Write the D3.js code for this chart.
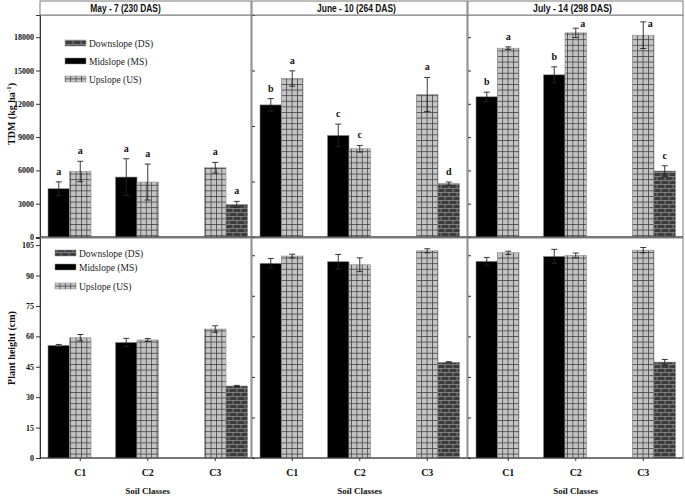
<!DOCTYPE html>
<html>
<head>
<meta charset="utf-8">
<script src="https://cdn.jsdelivr.net/npm/d3@7"></script>
<style>
  body { margin: 0; background: #fff; }
  svg { display: block; }
  .tick text { font-family: "Liberation Serif", "Times New Roman", serif; font-weight: bold; }
</style>
</head>
<body>
<script>
'use strict';

// categories / panels
const classes = ["C1", "C2", "C3"];
const series = ["MS", "US", "DS"];
const dates = ["May - 7 (230 DAS)", "June - 10 (264 DAS)", "July - 14 (298 DAS)"];
const legendNames = ["Downslope (DS)", "Midslope (MS)", "Upslope (US)"];
const legendKeys = ["DS", "MS", "US"];

// TDM (kg/ha), one row per date, columns C1..C3
const tdmMS = [[4350, 5400, null], [11900, 9150, null], [12630, 14610, null]];
const tdmUS = [[5900, 4950, 6240], [14280, 7950, 12840], [17010, 18390, 18180]];
const tdmDS = [[null, null, 2940], [null, null, 4800], [null, null, 5940]];
const tdmErrMS = [[620, 1650, null], [570, 1020, null], [420, 720, null]];
const tdmErrUS = [[920, 1620, 480], [690, 300, 1530], [120, 420, 1200]];
const tdmErrDS = [[null, null, 270], [null, null, 150], [null, null, 480]];
const tdmLetMS = [["a", "a", null], ["b", "c", null], ["b", "b", null]];
const tdmLetUS = [["a", "a", "a"], ["a", "c", "a"], ["a", "a", "a"]];
const tdmLetDS = [[null, null, "a"], [null, null, "d"], [null, null, "c"]];

// Plant height (cm)
const htMS = [[55.5, 57.0, null], [96.0, 96.8, null], [97.0, 99.4, null]];
const htUS = [[59.3, 58.2, 63.6], [99.6, 95.3, 102.2], [101.2, 99.9, 102.5]];
const htDS = [[null, null, 35.5], [null, null, 47.2], [null, null, 47.3]];
const htErrMS = [[0.5, 2.0, null], [2.4, 3.6, null], [1.9, 3.5, null]];
const htErrUS = [[1.6, 0.7, 1.6], [0.9, 3.4, 1.0], [0.8, 1.2, 1.3]];
const htErrDS = [[null, null, 0.3], [null, null, 0.3], [null, null, 1.3]];

// y tick labels
const tdmTicks = [0, 3000, 6000, 9000, 12000, 15000, 18000];
const htTicks = [0, 15, 30, 45, 60, 75, 90, 105];

(function () {
    const W = 685, H = 497;
    const svg = d3.select("body").append("svg")
        .attr("width", W)
        .attr("height", H);

    // patterns
    const defs = svg.append("defs");
    const grid = defs.append("pattern")
        .attr("id", "pUS").attr("patternUnits", "userSpaceOnUse")
        .attr("width", 5.4).attr("height", 5.6);
    grid.append("rect").attr("width", 5.4).attr("height", 5.6).attr("fill", "#c4c4c4");
    grid.append("path").attr("d", "M0,0.4H5.4M0.4,0V5.6")
        .attr("stroke", "#3c3c3c").attr("stroke-width", 0.8);

    const brick = defs.append("pattern")
        .attr("id", "pDS").attr("patternUnits", "userSpaceOnUse")
        .attr("width", 8).attr("height", 8);
    brick.append("rect").attr("width", 8).attr("height", 8).attr("fill", "#3d3d3d");
    brick.append("path").attr("d", "M0,0.5H8M0,4.5H8M1,0V4M5,4V8")
        .attr("stroke", "#858585").attr("stroke-width", 0.9);

    const fills = { MS: "#000", US: "url(#pUS)", DS: "url(#pDS)" };

    const edges = [40, 251, 467, 683];
    const rows = [
        { top: 15, bottom: 237, max: 20000, ticks: tdmTicks, step: [3000, 5000, 3000],
          vals: { MS: tdmMS, US: tdmUS, DS: tdmDS }, errs: { MS: tdmErrMS, US: tdmErrUS, DS: tdmErrDS },
          lets: { MS: tdmLetMS, US: tdmLetUS, DS: tdmLetDS }, title: "TDM (kg ha", sup: "-1", legendX: 65, legendY: [43, 61, 79] },
        { top: 238, bottom: 458, max: 108.5, ticks: htTicks, step: [15, 20, 20],
          vals: { MS: htMS, US: htUS, DS: htDS }, errs: { MS: htErrMS, US: htErrUS, DS: htErrDS },
          lets: null, title: "Plant height (cm)", legendX: 55, legendY: [253, 267, 286] }
    ];

    rows.forEach(function (row, r) {
        const y = d3.scaleLinear().domain([0, row.max]).range([row.bottom, row.top]);

        dates.forEach(function (date, p) {
            const x0 = edges[p] + (p === 0 ? 0 : 1), x1 = edges[p + 1];
            const xBand = d3.scaleBand().domain(classes)
                .range([x0 + 8, x0 + 207.5]).paddingInner(0.044).paddingOuter(0);
            const xSub = d3.scaleBand().domain(series).range([0, xBand.bandwidth()]);
            const g = svg.append("g");

            // frame
            g.append("rect")
                .attr("x", x0).attr("y", row.top)
                .attr("width", x1 - x0).attr("height", row.bottom - row.top)
                .attr("fill", "none").attr("stroke", "#7a7a7a").attr("stroke-width", 1);

            // bars
            series.forEach(function (s) {
                classes.forEach(function (c, ci) {
                    const v = row.vals[s][p][ci];
                    if (v == null) return;
                    const bx = xBand(c) + xSub(s);
                    const bw = xSub.bandwidth();
                    g.append("rect")
                        .attr("x", bx).attr("y", y(v))
                        .attr("width", bw).attr("height", y(0) - y(v))
                        .attr("fill", fills[s])
                        .attr("stroke", "#8a8a8a").attr("stroke-width", 0.6);
                    const e = row.errs[s][p][ci];
                    const cx = bx + bw / 2;
                    g.append("path")
                        .attr("d", "M" + cx + "," + y(v - e) + "V" + y(v + e) +
                            "M" + (cx - 3) + "," + y(v + e) + "H" + (cx + 3) +
                            "M" + (cx - 3) + "," + y(v - e) + "H" + (cx + 3))
                        .attr("stroke", "#222").attr("stroke-width", 0.9).attr("fill", "none");
                    if (row.lets) {
                        let ly = y(v + e) - 7;
                        let lx = cx;
                        if (ly < 27) { ly = 27; lx = cx + 7; }
                        g.append("text")
                            .attr("x", lx).attr("y", ly)
                            .attr("text-anchor", "middle")
                            .attr("font-family", "Liberation Serif, Times New Roman, serif")
                            .attr("font-weight", "bold").attr("font-size", 10)
                            .attr("fill", "#111")
                            .text(row.lets[s][p][ci]);
                    }
                });
            });

            // y axis
            if (p === 0) {
                g.append("g")
                    .attr("transform", "translate(" + x0 + ",0)")
                    .call(d3.axisLeft(y).tickValues(row.ticks).tickSize(4).tickPadding(2).tickFormat(d3.format("d")))
                    .call(function (a) {
                        a.select(".domain").attr("stroke", "#333");
                        a.selectAll("line").attr("stroke", "#333");
                        a.selectAll("text").attr("font-size", 8).attr("fill", "#111");
                    });
            } else {
                const tv = d3.range(0, row.max + 0.01, row.step[p]);
                g.append("g")
                    .attr("transform", "translate(" + x0 + ",0)")
                    .call(d3.axisLeft(y).tickValues(tv).tickSize(3).tickFormat(""))
                    .call(function (a) {
                        a.select(".domain").remove();
                        a.selectAll("line").attr("stroke", "#333").attr("x2", 3);
                    });
            }

            if (r === 0) {
                // title strip
                g.append("rect")
                    .attr("x", x0).attr("y", 1)
                    .attr("width", x1 - x0).attr("height", 14)
                    .attr("fill", "#fff").attr("stroke", "#7a7a7a").attr("stroke-width", 1);
                g.append("text")
                    .attr("x", (x0 + x1) / 2 - (p === 0 ? 20 : 3)).attr("y", 12)
                    .attr("text-anchor", "middle")
                    .attr("font-family", "Liberation Sans, Arial, sans-serif")
                    .attr("font-weight", "bold").attr("font-size", 10.5)
                    .attr("textLength", date.length * 4.15)
                    .attr("lengthAdjust", "spacingAndGlyphs")
                    .attr("fill", "#111")
                    .text(date);
            } else {
                // x axis
                g.append("g")
                    .attr("transform", "translate(0," + row.bottom + ")")
                    .call(d3.axisBottom(xBand).tickSize(3).tickPadding(8))
                    .call(function (a) {
                        a.select(".domain").remove();
                        a.selectAll("line").attr("stroke", "#333");
                        a.selectAll("text").attr("font-size", 10).attr("fill", "#111");
                    });
                g.append("text")
                    .attr("x", xBand("C2") + xBand.bandwidth() / 2).attr("y", 494)
                    .attr("text-anchor", "middle")
                    .attr("font-family", "Liberation Serif, Times New Roman, serif")
                    .attr("font-weight", "bold").attr("font-size", 9)
                    .attr("fill", "#111")
                    .text("Soil Classes");
            }
        });

        // dark baseline
        svg.append("line")
            .attr("x1", edges[0]).attr("x2", edges[3])
            .attr("y1", row.bottom).attr("y2", row.bottom)
            .attr("stroke", "#333").attr("stroke-width", 1);

        // legend
        const leg = svg.append("g");
        legendKeys.forEach(function (k, i) {
            leg.append("rect")
                .attr("x", row.legendX).attr("y", row.legendY[i] - 3)
                .attr("width", 21).attr("height", 6)
                .attr("fill", fills[k]).attr("stroke", "#8a8a8a").attr("stroke-width", 0.5);
            leg.append("text")
                .attr("x", row.legendX + 24).attr("y", row.legendY[i] + 3.5)
                .attr("font-family", "Liberation Serif, Times New Roman, serif")
                .attr("font-size", 9.5).attr("fill", "#222")
                .text(legendNames[i]);
        });

        // y title
        const yt = svg.append("text")
            .attr("transform", "translate(15," + ((row.top + row.bottom) / 2 + (r === 0 ? -12 : 0)) + ") rotate(-90)")
            .attr("text-anchor", "middle")
            .attr("font-family", "Liberation Serif, Times New Roman, serif")
            .attr("font-weight", "bold").attr("font-size", 10)
            .attr("fill", "#111");
        yt.append("tspan").text(row.title);
        if (row.sup) {
            yt.append("tspan").attr("dy", -4).attr("font-size", 7).text(row.sup);
            yt.append("tspan").attr("dy", 4).text(")");
        }
    });
})();
</script>
</body>
</html>
